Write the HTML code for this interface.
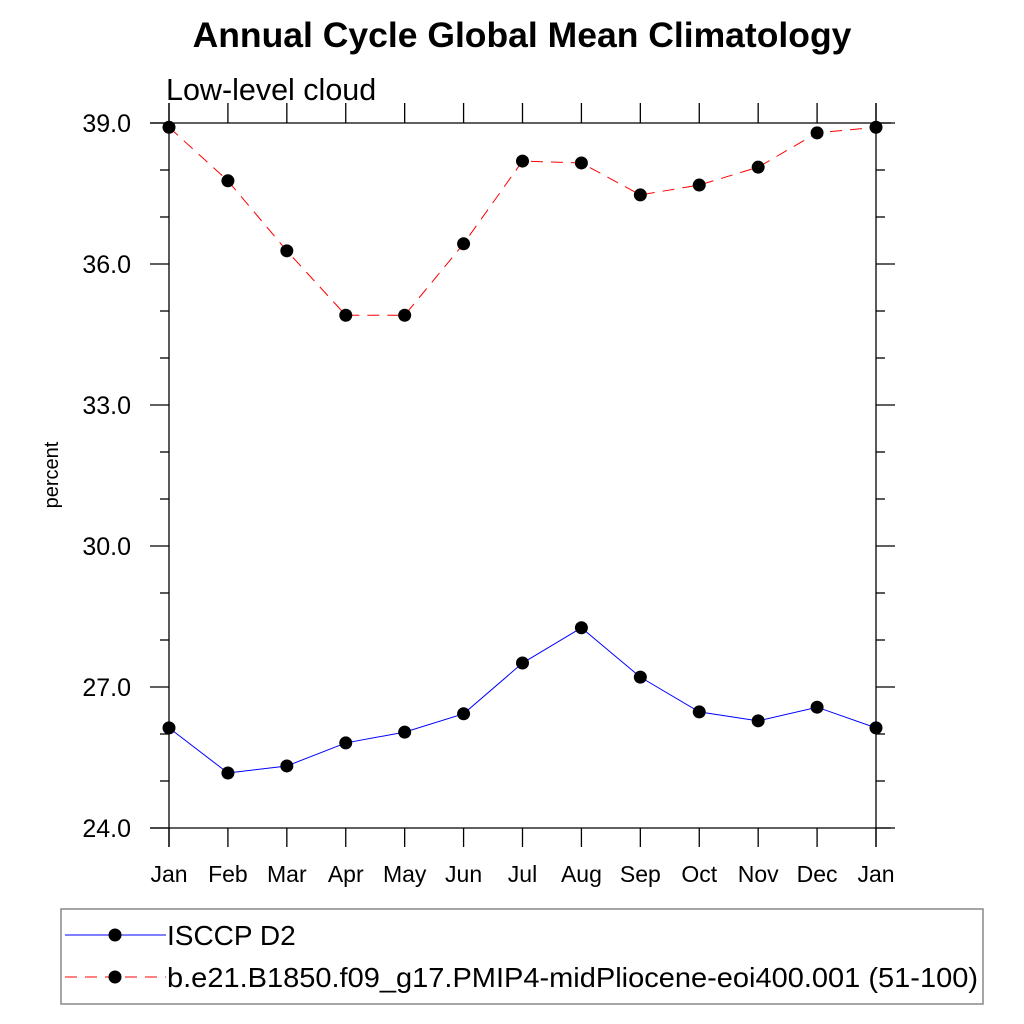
<!DOCTYPE html>
<html><head><meta charset="utf-8"><style>
body{margin:0;background:#fff}
svg{display:block;font-family:"Liberation Sans",sans-serif}
</style></head><body>
<svg id="chart" width="1024" height="1024" viewBox="0 0 1024 1024">
<text x="522" y="47" text-anchor="middle" font-size="35.5" font-weight="bold">Annual Cycle Global Mean Climatology</text>
<text x="166" y="100" font-size="30.5">Low-level cloud</text>
<text transform="translate(58,475) rotate(-90)" text-anchor="middle" font-size="20">percent</text>
<g id="axes"></g>
<g id="series"></g>
<rect x="61" y="909" width="922" height="95" fill="none" stroke="#888" stroke-width="1.5"/>
<g>
<line x1="65" y1="935" x2="166" y2="935" stroke="blue" stroke-width="1"/>
<circle cx="115" cy="935" r="6.5" fill="#000"/>
<text x="167" y="945" font-size="28">ISCCP D2</text>
</g>
<g>
<line x1="65" y1="977" x2="166" y2="977" stroke="red" stroke-width="1" stroke-dasharray="12,8"/>
<circle cx="115" cy="977" r="6.5" fill="#000"/>
<text x="167" y="987" font-size="28" textLength="811" lengthAdjust="spacingAndGlyphs">b.e21.B1850.f09_g17.PMIP4-midPliocene-eoi400.001 (51-100)</text>
</g>
</svg>
<script>
const months = ["Jan","Feb","Mar","Apr","May","Jun","Jul","Aug","Sep","Oct","Nov","Dec","Jan"];
const isccp = [26.13,25.17,25.32,25.81,26.04,26.43,27.51,28.26,27.21,26.47,26.28,26.57,26.13];
const model = [38.91,37.77,36.28,34.91,34.91,36.43,38.19,38.15,37.47,37.68,38.06,38.79,38.91];
const yTicks = ["24.0","27.0","30.0","33.0","36.0","39.0"];
const yMin = 24, yMax = 39;
const X0=169, X1=876, Y0=828, Y1=123;
const NS="http://www.w3.org/2000/svg";
function xs(i){return X0+(X1-X0)*i/(months.length-1);}
function ys(v){return Y0-(v-yMin)/(yMax-yMin)*(Y0-Y1);}
function mk(tag,attrs,parent){const e=document.createElementNS(NS,tag);for(const k in attrs)e.setAttribute(k,attrs[k]);parent.appendChild(e);return e;}
const ax=document.getElementById('axes');
const st={stroke:"#000","stroke-width":1.3};
function ln(x1,y1,x2,y2){return mk('line',Object.assign({x1,y1,x2,y2},st),ax);}
let f;
f=ln(150,Y0,891,Y0);


f=ln(150,Y1,891,Y1);


f=ln(X0,103,X0,847);


f=ln(X1,103,X1,847);


months.forEach((m,i)=>{
  const x=xs(i);
  ln(x,Y0,x,847);ln(x,Y1,x,103);
  const t=mk('text',{x:x,y:882,"text-anchor":"middle","font-size":23},ax);
  t.textContent=m;
  
  
});
for(let v=yMin;v<=yMax;v+=1){
  const y=ys(v);
  const major=(v-yMin)%3===0;
  const L=major?19:9;
  ln(X0-L,y,X0,y);ln(X1,y,X1+L,y);
}
yTicks.forEach(s=>{
  const t=mk('text',{x:131,y:ys(parseFloat(s))+9,"text-anchor":"end","font-size":25},ax);
  t.textContent=s;
  
  
});
const sg=document.getElementById('series');
function series(vals,color,dash,name){
  const g=mk('g',{},sg);
  
  
  const p=mk('polyline',{points:vals.map((v,i)=>xs(i)+","+ys(v)).join(" "),fill:"none",stroke:color,"stroke-width":1,"stroke-dasharray":dash},g);
  
  
  vals.forEach((v,i)=>{
    const c=mk('circle',{cx:xs(i),cy:ys(v),r:6.5,fill:"#000"},g);
    
    
  });
}
series(isccp,"blue","none","isccp-series");
series(model,"red","12,8","model-series");
</script>
</body></html>
